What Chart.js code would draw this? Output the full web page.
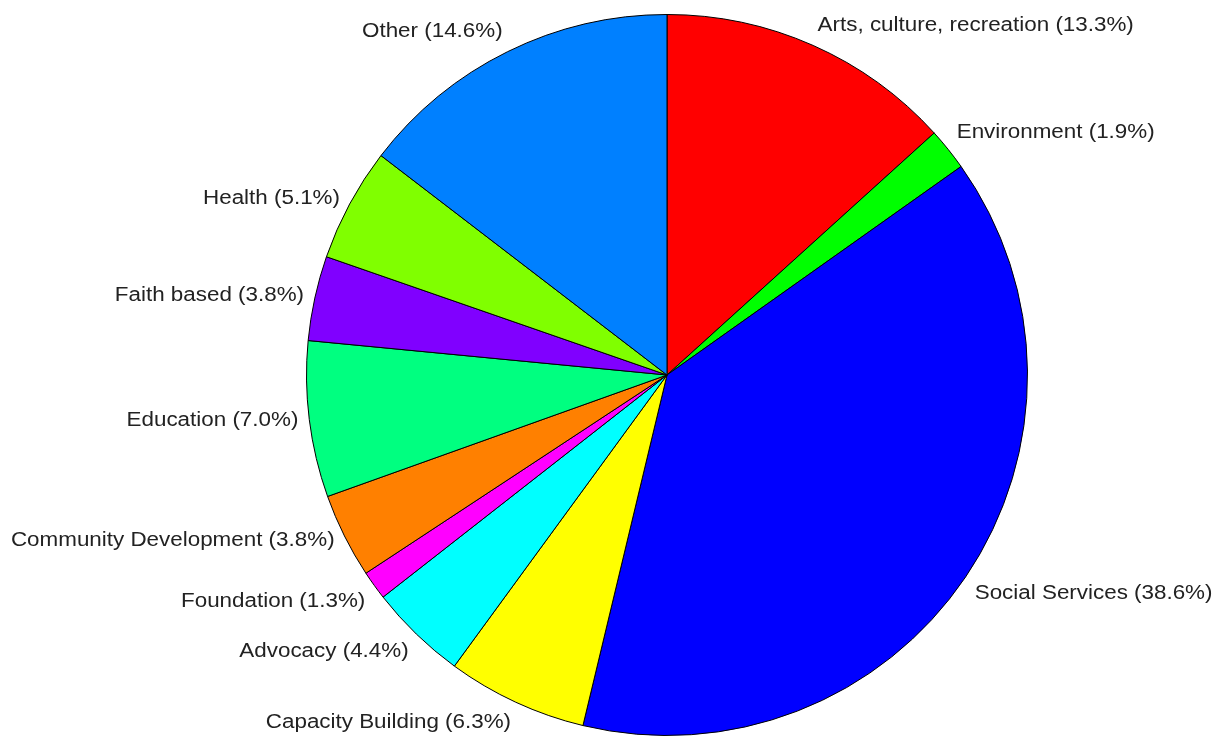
<!DOCTYPE html>
<html lang="en">
<head>
  <meta charset="UTF-8">
  <title>Pie chart</title>
  <script src="https://cdn.jsdelivr.net/npm/chart.js"></script>
  <style>
    body {
      margin: 0;
      padding: 0;
      background: #fff;
    }
    .chart-container {
      width: 1222px;
      height: 740px;
    }
  </style>
</head>
<body>
  <div class="chart-container"><canvas id="pie"></canvas></div>

  <script>
    const categories = [
      'Arts, culture, recreation', 'Environment', 'Social Services', 'Capacity Building',
      'Advocacy', 'Foundation', 'Community Development', 'Education',
      'Faith based', 'Health', 'Other'
    ];
    const shares = [13.3, 1.9, 38.6, 6.3, 4.4, 1.3, 3.8, 7.0, 3.8, 5.1, 14.6];
    const sliceColors = [
      '#ff0000', '#00ff00', '#0000ff', '#ffff00',
      '#00ffff', '#ff00ff', '#ff8000', '#00ff80',
      '#8000ff', '#80ff00', '#0080ff'
    ];

    // labels outside each slice, left/right of the slice's mid direction
    // (the original text is a bit wide, so it is stretched horizontally)
    const outsideLabels = {
      id: 'outsideLabels',
      afterDatasetsDraw(chart) {
        const ctx = chart.ctx;
        const meta = chart.getDatasetMeta(0);
        const stretch = 1.12;
        ctx.save();
        ctx.font = '20px "Liberation Sans", Arial, sans-serif';
        ctx.fillStyle = '#222';
        meta.data.forEach((arc, i) => {
          const p = arc.getProps(['x', 'y', 'startAngle', 'endAngle', 'outerRadius'], true);
          const mid = (p.startAngle + p.endAngle) / 2;
          const r = p.outerRadius + 11;
          const cx = Math.cos(mid), sy = Math.sin(mid);
          const x = p.x + cx * r;
          const y = p.y + sy * r;
          ctx.textAlign = cx >= 0 ? 'left' : 'right';
          if (sy < -0.5) ctx.textBaseline = 'bottom';
          else if (sy > 0.5) ctx.textBaseline = 'top';
          else ctx.textBaseline = 'middle';
          ctx.save();
          ctx.translate(x, y);
          ctx.scale(stretch, 1);
          ctx.fillText(`${categories[i]} (${shares[i].toFixed(1)}%)`, 0, 0);
          ctx.restore();
        });
        ctx.restore();
      }
    };

    new Chart(document.getElementById('pie').getContext('2d'), {
      type: 'pie',
      data: {
        labels: categories,
        datasets: [{
          data: shares,
          backgroundColor: sliceColors,
          borderColor: '#000',
          borderWidth: 1
        }]
      },
      options: {
        responsive: true,
        maintainAspectRatio: false,
        animation: false,
        layout: {
          padding: { left: 306, right: 194, top: 14, bottom: 4 }
        },
        plugins: {
          legend: { display: false },
          tooltip: { enabled: false }
        }
      },
      plugins: [outsideLabels]
    });
  </script>
</body>
</html>
